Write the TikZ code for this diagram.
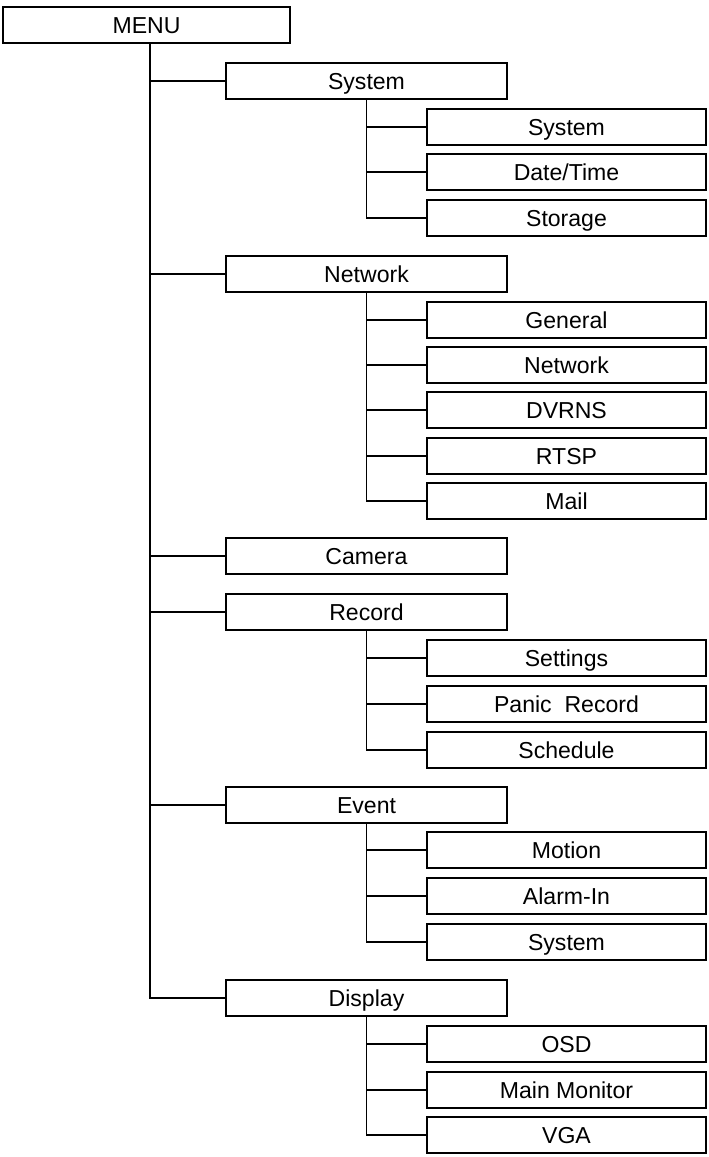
\documentclass[tikz,border=0pt]{standalone}
\usepackage{fontspec}
\setmainfont{Liberation Sans}
\usetikzlibrary{calc}

\begin{document}
\begin{tikzpicture}[x=0.025cm, y=-0.025cm,
    box/.style={draw, line width=1.3pt, minimum height=0.9cm, inner sep=0pt,
                text height=11.7pt, text depth=0pt,
                font=\fontsize{16.4}{19}\selectfont},
    topbox/.style={box, minimum width=7.175cm},
    lvlone/.style={box, minimum width=7.025cm},
    lvltwo/.style={box, minimum width=6.975cm},
    link/.style={line width=1.3pt}]

    % Column centres of the three levels
    \def\xm{146.5}
    \def\xa{366.5}
    \def\xb{566.5}

    \useasboundingbox (0,0) rectangle (709,1157);

    % Top of the menu
    \node[topbox] (menu) at (\xm, 25) {MENU};
    \coordinate (trunk) at ([xshift=0.09cm]menu.south);

    % First level
    \node[lvlone] (sys)  at (\xa, 81)  {System};
    \node[lvlone] (net)  at (\xa, 274) {Network};
    \node[lvlone] (cam)  at (\xa, 556) {Camera};
    \node[lvlone] (rec)  at (\xa, 612) {Record};
    \node[lvlone] (evt)  at (\xa, 805) {Event};
    \node[lvlone] (disp) at (\xa, 998) {Display};

    % Second level
    \node[lvltwo] (sysA) at (\xb, 127) {System};
    \node[lvltwo] (sysB) at (\xb, 172) {Date/Time};
    \node[lvltwo] (sysC) at (\xb, 218) {Storage};

    \node[lvltwo] (netA) at (\xb, 320) {General};
    \node[lvltwo] (netB) at (\xb, 365) {Network};
    \node[lvltwo] (netC) at (\xb, 410) {DVRNS};
    \node[lvltwo] (netD) at (\xb, 456) {RTSP};
    \node[lvltwo] (netE) at (\xb, 501) {Mail};

    \node[lvltwo] (recA) at (\xb, 658) {Settings};
    \node[lvltwo] (recB) at (\xb, 704) {Panic~~Record};
    \node[lvltwo] (recC) at (\xb, 750) {Schedule};

    \node[lvltwo] (evtA) at (\xb, 850) {Motion};
    \node[lvltwo] (evtB) at (\xb, 896) {Alarm-In};
    \node[lvltwo] (evtC) at (\xb, 942) {System};

    \node[lvltwo] (dispA) at (\xb, 1044) {OSD};
    \node[lvltwo] (dispB) at (\xb, 1090) {Main Monitor};
    \node[lvltwo] (dispC) at (\xb, 1135) {VGA};

    % Main trunk and its branches
    \draw[link] (trunk) |- (disp.west);
    \foreach \n in {sys, net, cam, rec, evt}
        \draw[link] (trunk |- \n.west) -- (\n.west);

    % Sub trunks
    \draw[link] (sys.south) |- (sysC.west);
    \draw[link] (net.south) |- (netE.west);
    \draw[link] (rec.south) |- (recC.west);
    \draw[link] (evt.south) |- (evtC.west);
    \draw[link] (disp.south) |- (dispC.west);

    \foreach \p/\n in {sys/sysA, sys/sysB, net/netA, net/netB, net/netC, net/netD,
                      rec/recA, rec/recB, evt/evtA, evt/evtB, disp/dispA, disp/dispB}
        \draw[link] (\p.south |- \n.west) -- (\n.west);
\end{tikzpicture}
\end{document}
